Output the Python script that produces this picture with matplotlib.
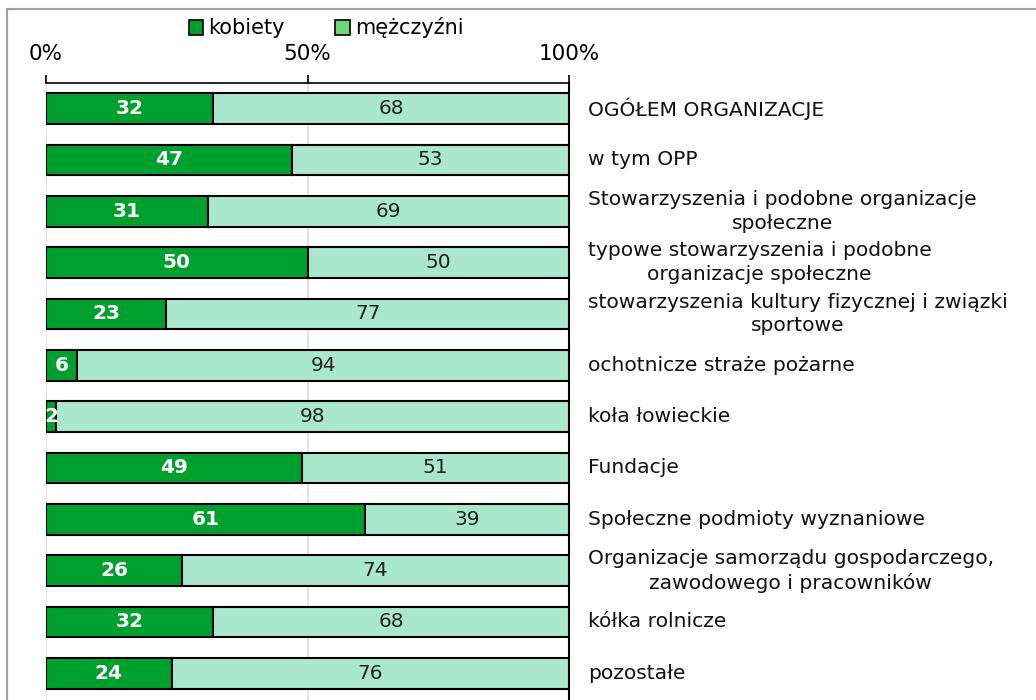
import matplotlib
matplotlib.use("Agg")
import matplotlib.pyplot as plt
from matplotlib.patches import Patch
from matplotlib.lines import Line2D

categories = [
    "OGÓŁEM ORGANIZACJE",
    "w tym OPP",
    "Stowarzyszenia i podobne organizacje\nspołeczne",
    "typowe stowarzyszenia i podobne\norganizacje społeczne",
    "stowarzyszenia kultury fizycznej i związki\nsportowe",
    "ochotnicze straże pożarne",
    "koła łowieckie",
    "Fundacje",
    "Społeczne podmioty wyznaniowe",
    "Organizacje samorządu gospodarczego,\nzawodowego i pracowników",
    "kółka rolnicze",
    "pozostałe",
]
kobiety = [32, 47, 31, 50, 23, 6, 2, 49, 61, 26, 32, 24]
mezczyzni = [68, 53, 69, 50, 77, 94, 98, 51, 39, 74, 68, 76]
xticks = [0, 50, 100]
xticklabels = ["0%", "50%", "100%"]

plt.rcParams['font.family'] = ['DejaVu Sans']

fig = plt.figure(figsize=(10.36, 7.0), dpi=100)
ax = fig.add_axes([46/1036, 0, (569-46)/1036, (700-83)/700])

n = len(categories)
ys = list(range(n))
c_k = "#00A02E"
c_m = "#AAE8CE"
ax.barh(ys, kobiety, height=0.6, color=c_k, edgecolor="black", linewidth=1.5, zorder=3)
ax.barh(ys, mezczyzni, left=kobiety, height=0.6, color=c_m, edgecolor="black", linewidth=1.5, zorder=3)

ax.set_ylim(n - 0.5 + 0.02, -0.5)
ax.set_xlim(0, 100)

for y, k, m in zip(ys, kobiety, mezczyzni):
    ax.text(k / 2, y, str(k), ha="center", va="center", color="white",
            fontsize=14.5, fontweight="bold", zorder=4)
    ax.text(k + m / 2, y, str(m), ha="center", va="center", color="#222222",
            fontsize=14.5, zorder=4)
    lab = categories[y]
    ax.text(103.6, y, lab, ha="left", va="center", multialignment="center",
            fontsize=14.6, color="#111111", clip_on=False, linespacing=1.3)

ax.xaxis.tick_top()
ax.set_xticks(xticks)
ax.set_xticklabels(xticklabels, fontsize=15.5)
ax.tick_params(axis="x", direction="out", length=6, width=1.2, pad=8, color="black")
ax.set_yticks([])
ax.grid(axis="x", color="#DDDDDD", linewidth=1.2, zorder=0)
for s in ["left", "bottom"]:
    ax.spines[s].set_visible(False)
ax.spines["top"].set_linewidth(1.2)
ax.spines["right"].set_linewidth(1.5)

handles = [Patch(facecolor=c_k, edgecolor="black", linewidth=1.2, label="kobiety"),
           Patch(facecolor="#6FD67A", edgecolor="black", linewidth=1.2, label="mężczyźni")]
fig.legend(handles=handles, loc="center", bbox_to_anchor=(326/1036, 1 - 28/700),
           ncol=2, frameon=False, fontsize=15, handlelength=0.7, handleheight=0.7,
           handletextpad=0.25, columnspacing=2.4, borderaxespad=0)

# outer frame
fig.add_artist(Line2D([7/1036, 7/1036], [0, 1 - 9/700], transform=fig.transFigure,
                      color="#A0A0A0", linewidth=1.5))
fig.add_artist(Line2D([7/1036, 1], [1 - 9/700, 1 - 9/700], transform=fig.transFigure,
                      color="#A0A0A0", linewidth=1.5))

fig.savefig("out.png", dpi=100)
